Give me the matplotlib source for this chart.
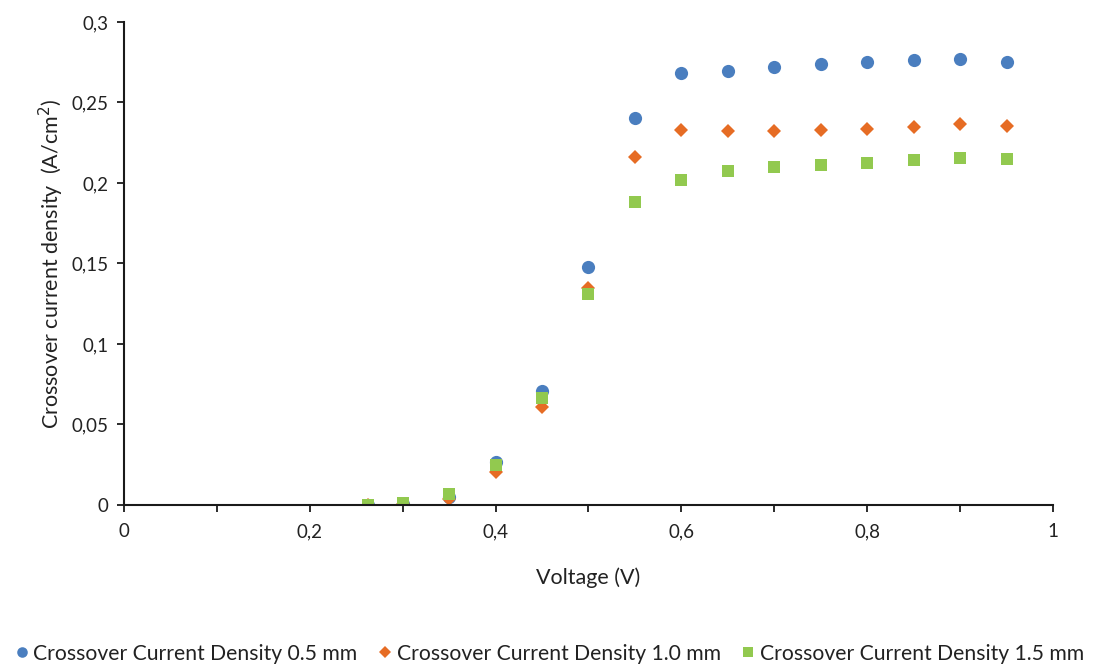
import numpy as np
import matplotlib.pyplot as plt
from matplotlib.ticker import FuncFormatter, MultipleLocator

plt.rcParams['font.family'] = ['Lato', 'DejaVu Sans']

# Spenning (V)
spenning = [0.263, 0.30, 0.35, 0.40, 0.45, 0.50, 0.55, 0.60, 0.65, 0.70, 0.75, 0.80, 0.85, 0.90, 0.95]

# Crossover-strømtetthet (A/cm2) for hver tykkelse
tetthet_05 = [0.0, 0.0005, 0.005, 0.0269, 0.0710, 0.1480, 0.2404, 0.2680, 0.2698, 0.2722, 0.2741, 0.2752, 0.2766, 0.2772, 0.2754]
tetthet_10 = [0.0, 0.0008, 0.0035, 0.0205, 0.0610, 0.1350, 0.2164, 0.2331, 0.2325, 0.2325, 0.2327, 0.2333, 0.2348, 0.2364, 0.2354]
tetthet_15 = [0.0, 0.0012, 0.0066, 0.0250, 0.0665, 0.1312, 0.1884, 0.2021, 0.2077, 0.2099, 0.2114, 0.2126, 0.2141, 0.2153, 0.2147]

etiketter = ["Crossover Current Density 0.5 mm",
             "Crossover Current Density 1.0 mm",
             "Crossover Current Density 1.5 mm"]

fig = plt.figure(figsize=(10.95, 6.64), dpi=100)
ax = fig.add_axes([0.1132, 0.2395, 0.8484, 0.7274])

ax.plot(spenning, tetthet_05, 'o', color='#4A7EBF', markersize=9.5, markeredgewidth=0, label=etiketter[0])
ax.plot(spenning, tetthet_10, 'D', color='#E66C24', markersize=7.5, markeredgewidth=0, label=etiketter[1])
ax.plot(spenning, tetthet_15, 's', color='#92C94F', markersize=9, markeredgewidth=0, label=etiketter[2])

ax.set_xlim(0, 1)
ax.set_ylim(0, 0.3)

komma = FuncFormatter(lambda v, p: ('%g' % round(v, 4)).replace('.', ','))
ax.xaxis.set_major_locator(MultipleLocator(0.2))
ax.xaxis.set_minor_locator(MultipleLocator(0.1))
ax.yaxis.set_major_locator(MultipleLocator(0.05))
ax.xaxis.set_major_formatter(komma)
ax.yaxis.set_major_formatter(komma)

for side in ['top', 'right']:
    ax.spines[side].set_visible(False)
for side in ['left', 'bottom']:
    ax.spines[side].set_linewidth(1.5)
    ax.spines[side].set_color('#1a1a1a')

ax.tick_params(which='both', direction='out', length=5, width=1.3, color='#1a1a1a',
               labelsize=13.5, labelcolor='#222222')
ax.tick_params(axis='x', pad=8)
ax.tick_params(axis='y', pad=6)

ax.set_xlabel("Voltage (V)", fontsize=15.5, color='#222222', labelpad=20)
ax.set_ylabel("Crossover current density  (A/cm$^2$)", fontsize=15.5, color='#222222', labelpad=4)

fig.legend(loc='lower center', bbox_to_anchor=(0.5, -0.028), ncol=3, frameon=False,
           fontsize=15.2, handletextpad=0.05, columnspacing=0.8, handlelength=1.0,
           markerscale=0.8, labelcolor='#222222')

fig.savefig("out.png", dpi=100)
